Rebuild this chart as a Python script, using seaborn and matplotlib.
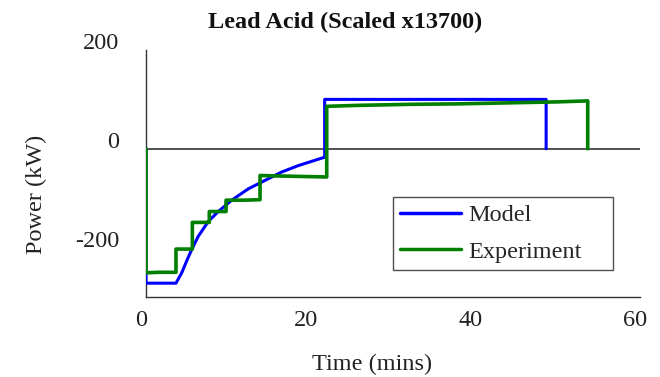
import numpy as np
import pandas as pd
import seaborn as sns
import matplotlib
matplotlib.use("Agg")
import matplotlib.pyplot as plt
from matplotlib.transforms import ScaledTranslation

# ---- data ----
model_t = [0, 0, 3.64, 4.34, 4.94, 5.55, 6.35, 7.57, 8.78, 10.41, 12.43, 14.45,
           16.48, 18.5, 21.7, 21.7, 48.6, 48.6]
model_p = [0, -272, -272, -251, -227, -204, -177, -147, -127, -104, -81, -64,
           -47, -34, -17, 100, 100, 0]

exp_t = [0, 0, 1.5, 3.64, 3.64, 5.63, 5.63, 7.69, 7.69, 9.72, 9.72, 12.0, 13.85,
         13.85, 16.0, 19.0, 21.95, 21.95, 26.0, 32.0, 38.0, 44.0, 50.0, 53.65, 53.65]
exp_p = [0, -251, -250, -250, -203, -203, -149, -149, -127, -127, -104, -104, -103,
         -54, -55, -56, -57, 86, 88, 90, 91, 93, 95, 97, 0]

series_names = ["Model", "Experiment"]
title = "Lead Acid (Scaled x13700)"
x_ticks = [0, 20, 40, 60]
y_ticks = [-200, 0, 200]

df = pd.concat([
    pd.DataFrame({"Time": model_t, "Power": model_p, "Series": series_names[0]}),
    pd.DataFrame({"Time": exp_t, "Power": exp_p, "Series": series_names[1]}),
], ignore_index=True)

sns.set_theme(style="white")
plt.rcParams["font.family"] = ["Liberation Serif", "DejaVu Serif"]

FS = 17.5
fig = plt.figure(figsize=(6.6, 3.77), dpi=100)
ax = fig.add_axes([146 / 660, 1 - 297 / 377, 494 / 660, 247 / 377])

ax.axhline(0, color="#333333", lw=1.2, zorder=1)
sns.lineplot(data=df, x="Time", y="Power", hue="Series",
             palette={"Model": "#0000ff", "Experiment": "#007f00"},
             estimator=None, sort=False, ax=ax, zorder=3)
for line, lw in zip(ax.get_lines()[1:], [2.2, 2.6]):
    line.set_linewidth(lw)

ax.set_xlim(0, 60)
ax.set_ylim(-300, 200)
ax.set_xticks(x_ticks)
ax.set_yticks(y_ticks)
ax.set_xticklabels([str(v) for v in x_ticks])
ax.set_yticklabels([str(v) for v in y_ticks])
ax.tick_params(axis="both", direction="in", length=5, width=1, colors="#333333",
               labelsize=FS, labelcolor="#222222")
ax.tick_params(axis="x", pad=9)
ax.tick_params(axis="y", pad=19)
for lab in ax.get_yticklabels():
    lab.set_transform(lab.get_transform() + ScaledTranslation(0, 9 / 100, fig.dpi_scale_trans))
for lab in ax.get_xticklabels():
    lab.set_transform(lab.get_transform() + ScaledTranslation(-5 / 100, 0, fig.dpi_scale_trans))

for s in ["top", "right"]:
    ax.spines[s].set_visible(False)
for s in ["left", "bottom"]:
    ax.spines[s].set_color("#333333")
    ax.spines[s].set_linewidth(1.0)

ax.set_xlabel("Time (mins)", fontsize=FS, color="#222222")
ax.set_ylabel("Power (kW)", fontsize=FS, color="#222222")
ax.xaxis.set_label_coords((372 - 146) / 494, (297 - 375) / 247)
ax.xaxis.label.set_va("bottom")
ax.yaxis.set_label_coords((36 - 146) / 494, (297 - 194) / 247)
ax.yaxis.label.set_va("center")
fig.text(345 / 660, 1 - 22 / 377, title, fontsize=FS, fontweight="bold",
         color="#111111", ha="center", va="center")

handles, labels = ax.get_legend_handles_labels()
leg = ax.legend(handles, labels, loc="lower left",
                bbox_to_anchor=(0.5, (297 - 270) / 247, 220 / 494, 76 / 247),
                mode="expand", borderaxespad=0,
                fontsize=FS, frameon=True, fancybox=False, handlelength=2.5,
                labelspacing=0.6, borderpad=0.3, handletextpad=0.3)
leg.get_frame().set_edgecolor("#222222")
leg.get_frame().set_linewidth(1.0)
for h in leg.get_lines():
    h.set_linewidth(2.5)

fig.savefig("out.png", dpi=100)
